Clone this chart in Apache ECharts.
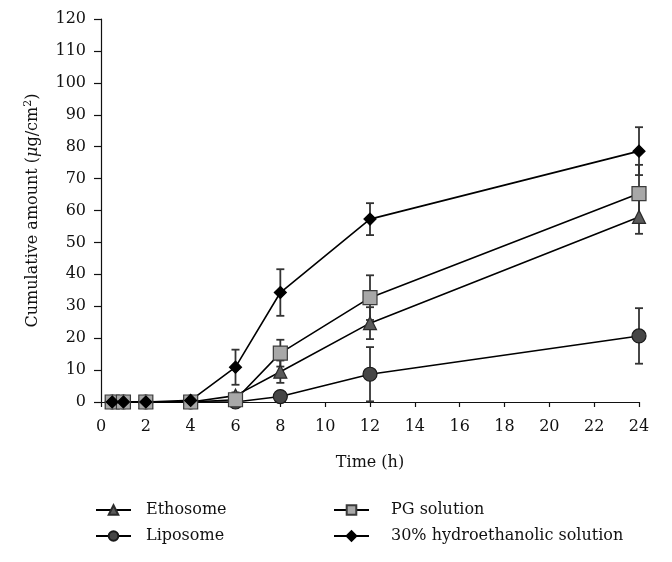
<!DOCTYPE html>
<html>
<head>
<meta charset="utf-8">
<script src="https://cdn.jsdelivr.net/npm/echarts@6/dist/echarts.min.js"></script>
<style>
html,body{margin:0;padding:0;background:#fff;}
#c{width:672px;height:562px;}
</style>
</head>
<body>
<div id="c"></div>
<script>
var times = [0.5, 1, 2, 4, 6, 8, 12, 24];
var ethosome = [0, 0, 0, 0, 2.0, 9.5, 24.7, 58.0];
var ethosomeErr = [0, 0, 0, 0, 1.0, 3.5, 5.0, 5.3];
var liposome = [0, 0, 0, 0, 0, 1.7, 8.7, 20.7];
var liposomeErr = [0, 0, 0, 0, 0, 1.0, 8.5, 8.7];
var pg = [0, 0, 0, 0, 0.7, 15.3, 32.7, 65.3];
var pgErr = [0, 0, 0, 0, 1.0, 4.2, 7.0, 9.0];
var hydro = [0, 0, 0, 0.5, 10.9, 34.3, 57.3, 78.6];
var hydroErr = [0, 0, 0, 1.0, 5.5, 7.3, 5.0, 7.5];
var yTicks = [0, 10, 20, 30, 40, 50, 60, 70, 80, 90, 100, 110, 120];
var xTicks = [0, 2, 4, 6, 8, 10, 12, 14, 16, 18, 20, 22, 24];

var FONT = 'DejaVu Serif';
var FS = 16;

function pairs(v){ return times.map(function(t,i){ return [t, v[i]]; }); }
function errData(v, e){ return times.map(function(t,i){ return [t, v[i]-e[i], v[i]+e[i]]; }); }

function errSeries(v, e, color){
  return {
    type: 'custom',
    silent: true,
    z: 1,
    data: errData(v, e),
    renderItem: function(params, api){
      var x = api.value(0);
      var lo = api.coord([x, api.value(1)]);
      var hi = api.coord([x, api.value(2)]);
      if (Math.abs(hi[1]-lo[1]) < 1) return null;
      var w = 4;
      var st = {stroke: color, lineWidth: 1.8};
      return {type:'group', children:[
        {type:'line', shape:{x1:lo[0], y1:lo[1], x2:hi[0], y2:hi[1]}, style: st},
        {type:'line', shape:{x1:lo[0]-w, y1:lo[1], x2:lo[0]+w, y2:lo[1]}, style: st},
        {type:'line', shape:{x1:hi[0]-w, y1:hi[1], x2:hi[0]+w, y2:hi[1]}, style: st}
      ]};
    }
  };
}

function lineSeries(name, v, symbol, size, fill, border){
  return {
    name: name,
    type: 'line',
    data: pairs(v),
    symbol: symbol,
    symbolSize: size,
    z: 3,
    lineStyle: {color: '#000', width: 1.6},
    itemStyle: {color: fill, borderColor: border, borderWidth: 1.2, opacity: 1},
    showAllSymbol: true
  };
}

var chart = echarts.init(document.getElementById('c'));
chart.setOption({
  animation: false,
  backgroundColor: '#fff',
  grid: {left: 101, right: 33, top: 19, bottom: 160},
  xAxis: {
    type: 'value', min: 0, max: 24, interval: 2,
    name: 'Time (h)', nameLocation: 'middle', nameGap: 53,
    nameTextStyle: {fontFamily: FONT, fontSize: FS, color: '#111'},
    axisLine: {show: true, onZero: false, lineStyle: {color: '#111', width: 1.2}},
    axisTick: {show: true, length: 5, lineStyle: {color: '#111', width: 1.2}},
    axisLabel: {fontFamily: FONT, fontSize: FS, color: '#111', margin: 17,
      formatter: function(v){ return xTicks.indexOf(v) >= 0 ? String(v) : ''; }},
    splitLine: {show: false}
  },
  yAxis: {
    type: 'value', min: 0, max: 120, interval: 10,
    name: '{a|Cumulative amount (}{i|μ}{a|g/cm}{s|2}{a|)}',
    nameLocation: 'middle', nameGap: 58, nameRotate: 90,
    nameTextStyle: {
      fontFamily: FONT, fontSize: FS, color: '#111',
      rich: {
        a: {fontFamily: FONT, fontSize: FS, color: '#111'},
        i: {fontFamily: FONT, fontSize: FS, fontStyle: 'italic', color: '#111'},
        s: {fontFamily: FONT, fontSize: 11, color: '#111', verticalAlign: 'bottom', padding: [0,0,9,0]}
      }
    },
    axisLine: {show: true, lineStyle: {color: '#111', width: 1.2}},
    axisTick: {show: true, length: 7, lineStyle: {color: '#111', width: 1.2}},
    axisLabel: {fontFamily: FONT, fontSize: FS, color: '#111', margin: 15,
      formatter: function(v){ return yTicks.indexOf(v) >= 0 ? String(v) : ''; }},
    splitLine: {show: false}
  },
  legend: [
    {
      orient: 'vertical', left: 90, top: 497, itemGap: 10, itemWidth: 35, itemHeight: 12,
      data: ['Ethosome', 'Liposome'],
      textStyle: {fontFamily: FONT, fontSize: FS, color: '#111', padding: [0,0,0,10]}
    },
    {
      orient: 'vertical', left: 328, top: 497, itemGap: 10, itemWidth: 35, itemHeight: 12,
      data: ['PG solution', '30% hydroethanolic solution'],
      textStyle: {fontFamily: FONT, fontSize: FS, color: '#111', padding: [0,0,0,17]}
    }
  ],
  series: [
    errSeries(liposome, liposomeErr, '#333'),
    errSeries(ethosome, ethosomeErr, '#333'),
    errSeries(pg, pgErr, '#333'),
    errSeries(hydro, hydroErr, '#333'),
    lineSeries('Liposome', liposome, 'circle', 14, '#464646', '#1a1a1a'),
    lineSeries('Ethosome', ethosome, 'triangle', 13, '#5a5a5a', '#2a2a2a'),
    lineSeries('PG solution', pg, 'rect', 14, '#a8a8a8', '#3a3a3a'),
    lineSeries('30% hydroethanolic solution', hydro, 'diamond', 12, '#000', '#000')
  ]
});
</script>
</body>
</html>
